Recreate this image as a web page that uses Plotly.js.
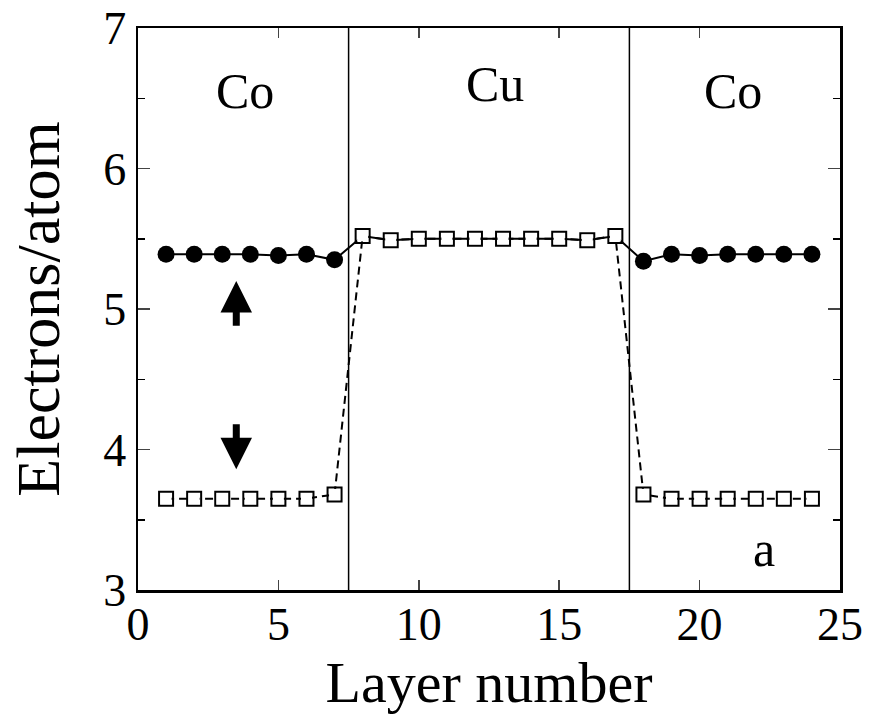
<!DOCTYPE html>
<html>
<head>
<meta charset="utf-8">
<script src="https://cdn.plot.ly/plotly-3.0.1.min.js"></script>
<style>html,body{margin:0;padding:0;background:#fff;}#chart{width:869px;height:715px;}</style>
</head>
<body>
<div id="chart"></div>
<script>
// Layer indices
const layers = [1,2,3,4,5,6,7,8,9,10,11,12,13,14,15,16,17,18,19,20,21,22,23,24];
// Majority (spin-up) electrons per atom
const spinUp = [5.39,5.39,5.39,5.39,5.38,5.39,5.35,5.52,5.49,5.50,5.50,5.50,5.50,5.50,5.50,5.49,5.52,5.34,5.39,5.38,5.39,5.39,5.39,5.39];
// Minority (spin-down) electrons per atom
const spinDown = [3.65,3.65,3.65,3.65,3.65,3.65,3.68,5.52,5.49,5.50,5.50,5.50,5.50,5.50,5.50,5.49,5.52,3.68,3.65,3.65,3.65,3.65,3.65,3.65];
// Interfaces between Co and Cu
const interfaces = [7.5, 17.5];
// Region labels
const regionLabels = ["Co","Cu","Co"];
const regionX = [3.8, 12.7, 21.2];
const xTicks = [0,5,10,15,20,25];
const yTicks = [3,4,5,6,7];

const font = "'Liberation Serif', 'Times New Roman', Times, serif";
// markers for the spin-up trace only visible in Co layers
const upSizes = layers.map(l => (l > interfaces[0] && l < interfaces[1]) ? 0 : 17);

const traces = [
  {x: layers, y: spinUp, mode: 'lines+markers', type: 'scatter',
   line: {color: '#000000', width: 2},
   marker: {symbol: 'circle', size: upSizes, color: '#000000', opacity: 1, line: {width: 0, color: '#000000'}}},
  {x: layers, y: spinDown, mode: 'lines+markers', type: 'scatter',
   line: {color: '#000000', width: 2, dash: '8px,5px'},
   marker: {symbol: 'square-open', size: 14, color: '#000000', opacity: 1, line: {width: 2, color: '#000000'}}},
  {x: layers, y: spinDown, mode: 'markers', type: 'scatter', hoverinfo: 'skip',
   marker: {symbol: 'square', size: 11, color: '#ffffff', opacity: 1, line: {width: 0}}}
];

const shapes = interfaces.map(v => ({type: 'line', xref: 'x', yref: 'paper', x0: v, x1: v, y0: 0, y1: 1,
  line: {color: '#000', width: 1.5}}));

const annotations = regionLabels.map((t, i) => ({x: regionX[i], y: i === 1 ? 6.6 : 6.55, xref: 'x', yref: 'y',
  text: t, showarrow: false, font: {family: font, size: 50, color: '#000'}}));
annotations.push({x: 22.3, y: 3.29, xref: 'x', yref: 'y', text: 'a', showarrow: false,
  font: {family: font, size: 50, color: '#000'}});
// spin arrows
annotations.push({x: 3.5, y: 5.2, ax: 3.5, ay: 4.87, xref: 'x', yref: 'y', axref: 'x', ayref: 'y',
  text: '', showarrow: true, arrowhead: 2, arrowsize: 0.9, arrowwidth: 7, arrowcolor: '#000'});
annotations.push({x: 3.5, y: 3.86, ax: 3.5, ay: 4.19, xref: 'x', yref: 'y', axref: 'x', ayref: 'y',
  text: '', showarrow: true, arrowhead: 2, arrowsize: 0.9, arrowwidth: 7, arrowcolor: '#000'});

const layout = {
  width: 869, height: 715,
  margin: {l: 138, r: 29, t: 28, b: 125},
  paper_bgcolor: '#fff', plot_bgcolor: '#fff',
  showlegend: false,
  font: {family: font, color: '#000'},
  xaxis: {range: [0, 25], tickvals: xTicks, ticks: 'inside', ticklen: 10, tickwidth: 1.5,
    showline: true, linewidth: 2.5, linecolor: '#000', mirror: 'ticks', showgrid: false, zeroline: false,
    ticklabelstandoff: -8,
    tickfont: {family: font, size: 46, color: '#000'},
    title: {text: 'Layer number', font: {family: font, size: 58, color: '#000'}, standoff: 2}},
  yaxis: {range: [3, 7], tickvals: yTicks, ticks: 'inside', ticklen: 12, tickwidth: 1.5,
    showline: true, linewidth: 2.5, linecolor: '#000', mirror: 'ticks', showgrid: false, zeroline: false,
    minor: {dtick: 0.5, ticks: 'inside', ticklen: 7, tickwidth: 1.5, tickcolor: '#000'},
    tickfont: {family: font, size: 46, color: '#000'},
    title: {text: 'Electrons/atom', font: {family: font, size: 62, color: '#000'}, standoff: 24}},
  shapes: shapes,
  annotations: annotations
};

Plotly.newPlot('chart', traces, layout, {displayModeBar: false, staticPlot: true});
</script>
</body>
</html>
